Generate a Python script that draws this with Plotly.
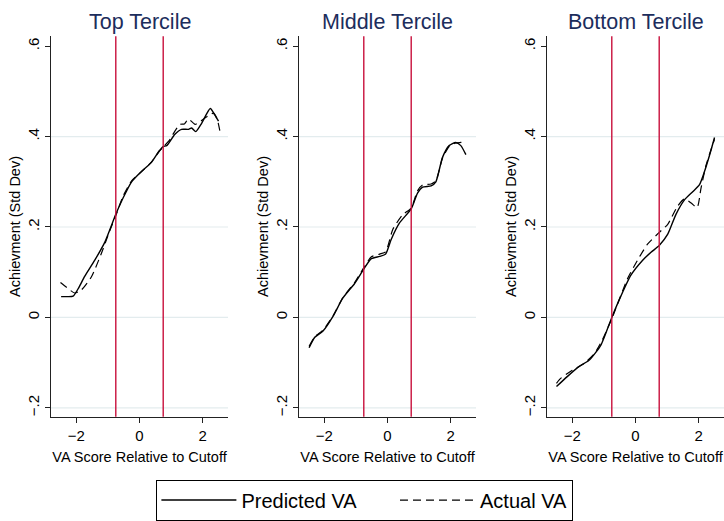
import plotly.graph_objects as go
from plotly.subplots import make_subplots

PANEL_TITLES = ["Top Tercile", "Middle Tercile", "Bottom Tercile"]
SERIES_NAMES = ["Predicted VA", "Actual VA"]
CUTOFFS = [-0.75, 0.75]

top_pred_x = [-2.48, -2.3, -2.1, -1.92, -1.74, -1.42, -1.10, -0.75, -0.52, -0.25, 0.06, 0.38, 0.62, 0.75, 0.86, 1.12, 1.33, 1.55, 1.65, 1.78, 1.97, 2.24, 2.38, 2.50]
top_pred_y = [0.046, 0.046, 0.047, 0.066, 0.090, 0.126, 0.166, 0.228, 0.264, 0.300, 0.323, 0.343, 0.368, 0.378, 0.380, 0.405, 0.416, 0.416, 0.419, 0.411, 0.430, 0.462, 0.448, 0.434]
top_act_x = [-2.50, -2.30, -2.05, -1.85, -1.52, -1.21, -0.95, -0.75, -0.52, -0.25, 0.06, 0.38, 0.62, 0.75, 0.95, 1.10, 1.28, 1.42, 1.55, 1.76, 2.07, 2.34, 2.45, 2.55]
top_act_y = [0.077, 0.066, 0.054, 0.060, 0.090, 0.141, 0.190, 0.225, 0.268, 0.302, 0.322, 0.344, 0.367, 0.377, 0.392, 0.410, 0.427, 0.428, 0.439, 0.427, 0.441, 0.452, 0.440, 0.410]

mid_pred_x = [-2.48, -2.30, -2.04, -1.72, -1.41, -1.04, -0.75, -0.51, -0.25, -0.06, 0.12, 0.38, 0.75, 0.95, 1.11, 1.38, 1.53, 1.74, 1.95, 2.16, 2.32, 2.48]
mid_pred_y = [-0.067, -0.044, -0.030, 0.003, 0.043, 0.075, 0.107, 0.130, 0.135, 0.140, 0.173, 0.209, 0.240, 0.275, 0.288, 0.291, 0.300, 0.354, 0.380, 0.387, 0.380, 0.360]
mid_act_x = [-2.48, -2.30, -2.04, -1.72, -1.41, -1.04, -0.75, -0.51, -0.25, -0.06, 0.17, 0.48, 0.75, 0.95, 1.11, 1.38, 1.53, 1.74, 1.95, 2.16, 2.32, 2.48]
mid_act_y = [-0.064, -0.043, -0.028, 0.004, 0.044, 0.077, 0.110, 0.134, 0.140, 0.145, 0.195, 0.227, 0.242, 0.280, 0.293, 0.295, 0.302, 0.352, 0.378, 0.386, 0.387, 0.388]

bot_pred_x = [-2.50, -2.16, -1.79, -1.47, -1.10, -0.75, -0.47, -0.15, 0.22, 0.49, 0.75, 1.02, 1.28, 1.55, 1.81, 2.02, 2.18, 2.34, 2.50]
bot_pred_y = [-0.153, -0.131, -0.109, -0.095, -0.062, 0.000, 0.046, 0.093, 0.126, 0.144, 0.159, 0.184, 0.228, 0.260, 0.278, 0.293, 0.322, 0.358, 0.398]
bot_act_x = [-2.50, -2.37, -2.00, -1.63, -1.30, -1.05, -0.75, -0.25, 0.06, 0.38, 0.75, 1.02, 1.33, 1.55, 1.76, 1.95, 2.07, 2.23, 2.50]
bot_act_y = [-0.146, -0.135, -0.117, -0.102, -0.080, -0.050, -0.003, 0.086, 0.126, 0.162, 0.188, 0.206, 0.246, 0.262, 0.253, 0.243, 0.285, 0.336, 0.394]

PRED = [(top_pred_x, top_pred_y), (mid_pred_x, mid_pred_y), (bot_pred_x, bot_pred_y)]
ACT = [(top_act_x, top_act_y), (mid_act_x, mid_act_y), (bot_act_x, bot_act_y)]

Y_TICKS = [-0.2, 0, 0.2, 0.4, 0.6]
Y_TICKTEXT = ["\u2212.2", "0", ".2", ".4", ".6"]
GRID_VALUES = [-0.2, 0, 0.2, 0.4]
X_TICKS = [-2, 0, 2]
X_TICKTEXT = ["\u22122", "0", "2"]

W, H = 724, 521
FONT = "Liberation Sans, Arial, sans-serif"
PAD = "\u00a0" * 6

fig = make_subplots(rows=1, cols=3)

for i in range(3):
    px_, py_ = PRED[i]
    ax_, ay_ = ACT[i]
    fig.add_trace(go.Scatter(x=px_, y=py_, mode="lines", name=SERIES_NAMES[0] + PAD,
                             line=dict(color="black", width=1.4, shape="spline", smoothing=0.6),
                             showlegend=(i == 0), legendgroup="p"), row=1, col=i + 1)
    fig.add_trace(go.Scatter(x=ax_, y=ay_, mode="lines", name=SERIES_NAMES[1],
                             line=dict(color="black", width=1.2, dash="8px,5px", shape="spline", smoothing=0.6),
                             showlegend=(i == 0), legendgroup="a"), row=1, col=i + 1)
    for g in GRID_VALUES:
        fig.add_hline(y=g, line=dict(color="#e3ecee", width=1.2), layer="below", row=1, col=i + 1)
    for c in CUTOFFS:
        fig.add_vline(x=c, line=dict(color="#c8103c", width=1.4), row=1, col=i + 1)

x_domains = [(51 / W, 228 / W), (299 / W, 476 / W), (547 / W, 724 / W)]
y_domain = (1 - 424 / H, 1 - 37 / H)

for i in range(3):
    sfx = "" if i == 0 else str(i + 1)
    fig.layout["xaxis" + sfx].update(
        domain=list(x_domains[i]), range=[-2.8, 2.8], tickvals=X_TICKS, ticktext=X_TICKTEXT,
        showgrid=False, zeroline=False, showline=True, linecolor="#222", linewidth=1,
        ticks="outside", ticklen=5, tickcolor="#222", tickfont=dict(size=15, color="black"),
        title=dict(text="VA Score Relative to Cutoff", font=dict(size=14.5, color="black"), standoff=9),
    )
    fig.layout["yaxis" + sfx].update(
        domain=list(y_domain), range=[-0.2196, 0.6217], tickvals=Y_TICKS, ticktext=Y_TICKTEXT,
        tickangle=-90, showgrid=False, zeroline=False, showline=True, linecolor="#222", linewidth=1,
        ticks="outside", ticklen=5, tickcolor="#222", tickfont=dict(size=15, color="black"),
        title=dict(text="Achievment (Std Dev)", font=dict(size=14.5, color="black"), standoff=0),
    )
    xc = (x_domains[i][0] + x_domains[i][1]) / 2
    fig.add_annotation(text=PANEL_TITLES[i], x=xc, y=1 - 22 / H, xref="paper", yref="paper",
                       showarrow=False, font=dict(size=21.5, color="#1c2d5c"), xanchor="center", yanchor="middle")

fig.update_layout(
    width=W, height=H, margin=dict(l=0, r=0, t=0, b=0),
    paper_bgcolor="white", plot_bgcolor="white",
    font=dict(family=FONT, color="black"),
    legend=dict(orientation="h", x=0.504, xanchor="center", y=1 - 488 / H, yanchor="top",
                bordercolor="black", borderwidth=1, bgcolor="white",
                font=dict(size=20), itemwidth=75),
)

fig.write_html("out.html")
